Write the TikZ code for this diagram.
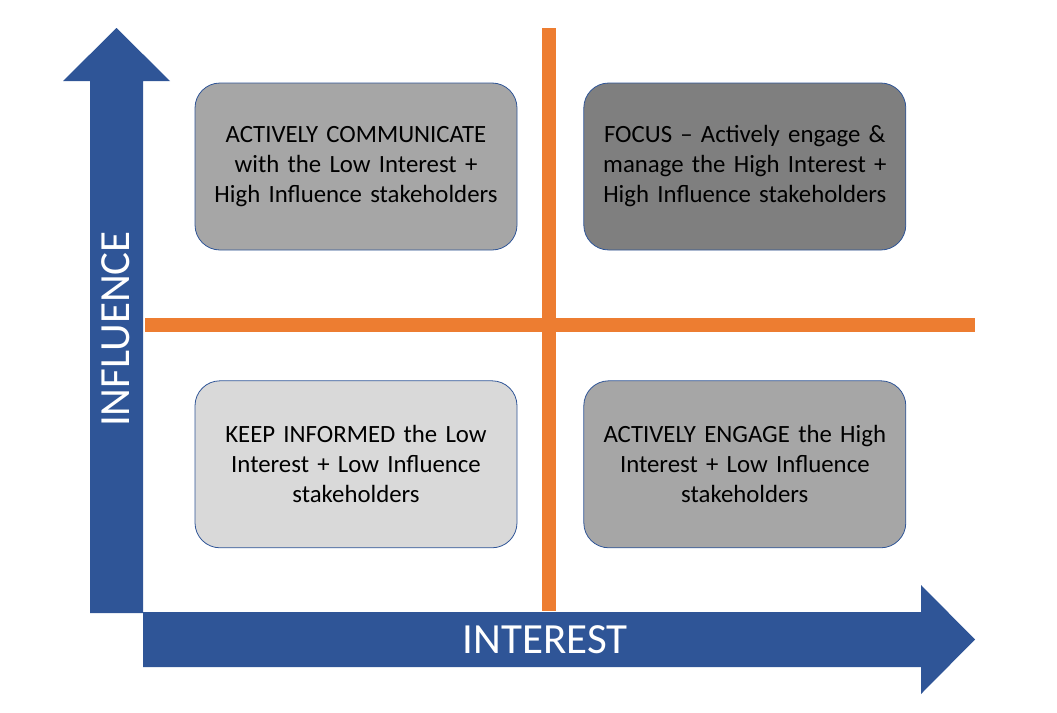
\documentclass[tikz,border=0pt]{standalone}
\usepackage{fontspec}
\setmainfont{Carlito}
\usetikzlibrary{positioning}

\definecolor{axisblue}{HTML}{2F5597}
\definecolor{gridorange}{HTML}{ED7D31}
\definecolor{greymid}{HTML}{A6A6A6}
\definecolor{greydark}{HTML}{7F7F7F}
\definecolor{greylight}{HTML}{D9D9D9}

\begin{document}
\begin{tikzpicture}[x=1pt, y=-1pt,
    quad/.style={draw=axisblue, line width=0.8pt, rounded corners=25pt,
      minimum width=322pt, minimum height=167pt, text width=310pt,
      align=center, font=\fontsize{24.8}{30}\selectfont},
    axislabel/.style={text=white, font=\fontsize{43}{50}\selectfont}]
  \useasboundingbox (0,0) rectangle (1057,712);
  % axes
  \fill[axisblue] (90,613) -- (90,81) -- (63,81) -- (116.5,28) -- (170,81)
    -- (143,81) -- (143,613) -- cycle;
  \fill[axisblue] (143,612) -- (921,612) -- (921,585) -- (975,639.5)
    -- (921,694) -- (921,667) -- (143,667) -- cycle;
  % grid lines
  \fill[gridorange] (542,28) rectangle (556,611);
  \fill[gridorange] (145,318) rectangle (975,332);
  % quadrants
  \node[quad, fill=greymid] (actcomm) at (356,166.5)
    {ACTIVELY COMMUNICATE\\with the Low Interest +\\High Influence stakeholders};
  \node[quad, fill=greydark, right=66pt of actcomm] (focus)
    {FOCUS – Actively engage \&\\manage the High Interest +\\High Influence stakeholders};
  \node[quad, fill=greylight, below=130pt of actcomm] (keepinf)
    {KEEP INFORMED the Low\\Interest + Low Influence\\stakeholders};
  \node[quad, fill=greymid, below=130pt of focus] (actengage)
    {ACTIVELY ENGAGE the High\\Interest + Low Influence\\stakeholders};
  % axis labels
  \node[axislabel] (interest) at (545,640) {INTEREST};
  \node[axislabel, rotate=90] (influence) at (116,329) {INFLUENCE};
\end{tikzpicture}
\end{document}
